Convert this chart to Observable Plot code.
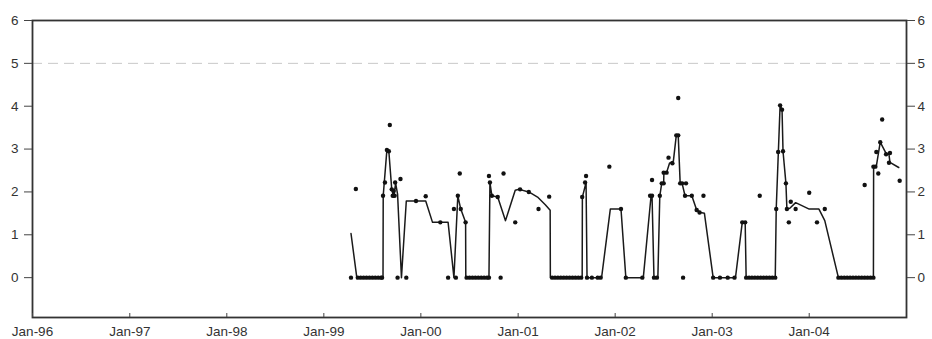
<!DOCTYPE html>
<html>
<head>
<meta charset="utf-8">
<script src="https://cdn.jsdelivr.net/npm/d3@7"></script>
<script src="https://cdn.jsdelivr.net/npm/@observablehq/plot@0.6"></script>
<style>
  html, body { margin: 0; padding: 0; background: #fff; }
  #chart svg { display: block; }
</style>
</head>
<body>
<div id="chart"></div>
<script>
// ---- data (decimal years, values) ----
const lineYears = [
  1999.28, 1999.34, 1999.61, 1999.612, 1999.65, 1999.67, 1999.70, 1999.72, 1999.74, 1999.76,
  1999.80, 1999.85, 2000.05, 2000.12, 2000.28, 2000.34, 2000.38, 2000.41, 2000.46, 2000.462,
  2000.70, 2000.71, 2000.73, 2000.79, 2000.87, 2000.97, 2001.01, 2001.11, 2001.20, 2001.28,
  2001.33, 2001.332, 2001.66, 2001.662, 2001.70, 2001.71, 2001.86, 2001.95, 2002.06, 2002.11,
  2002.29, 2002.37, 2002.38, 2002.40, 2002.44, 2002.46, 2002.48, 2002.50, 2002.502, 2002.53,
  2002.56, 2002.60, 2002.63, 2002.65, 2002.67, 2002.69, 2002.72, 2002.79, 2002.84, 2002.88,
  2002.92, 2003.01, 2003.24, 2003.31, 2003.34, 2003.35, 2003.65, 2003.66, 2003.70, 2003.72,
  2003.73, 2003.76, 2003.77, 2003.80, 2003.86, 2004.00, 2004.10, 2004.16, 2004.30, 2004.66,
  2004.662, 2004.69, 2004.73, 2004.79, 2004.82, 2004.83, 2004.92
];
const lineValues = [
  1.03, 0, 0, 1.91, 2.98, 2.95, 2.06, 1.88, 2.2, 1.95,
  0, 1.79, 1.79, 1.29, 1.29, 0, 1.91, 1.6, 1.29, 0,
  0, 2.22, 1.91, 1.88, 1.33, 2.04, 2.06, 2.0, 1.88, 1.7,
  1.57, 0, 0, 1.88, 2.22, 0, 0, 1.6, 1.6, 0,
  0, 1.91, 1.91, 0, 0, 1.91, 2.2, 2.2, 2.45, 2.45,
  2.67, 2.72, 3.32, 3.32, 2.2, 2.2, 1.91, 1.91, 1.58, 1.52,
  1.5, 0, 0, 1.29, 1.29, 0, 0, 1.6, 4.02, 3.92,
  2.95, 2.2, 1.6, 1.62, 1.75, 1.6, 1.6, 1.33, 0, 0,
  2.59, 2.6, 3.16, 2.9, 2.87, 2.69, 2.57
];

const dotYears = [
  1999.28, 1999.33, 1999.35, 1999.38, 1999.41, 1999.44, 1999.47, 1999.50, 1999.53, 1999.56,
  1999.59, 1999.60, 1999.61, 1999.63, 1999.65, 1999.67, 1999.68, 1999.70, 1999.71, 1999.72,
  1999.73, 1999.735, 1999.76, 1999.79, 1999.85, 1999.95, 2000.05, 2000.20, 2000.28, 2000.34,
  2000.36, 2000.38, 2000.40, 2000.41, 2000.46, 2000.47, 2000.50, 2000.53, 2000.56, 2000.59,
  2000.62, 2000.65, 2000.68, 2000.70, 2000.70, 2000.71, 2000.73, 2000.79, 2000.82, 2000.85,
  2000.97, 2001.02, 2001.11, 2001.21, 2001.32, 2001.35, 2001.38, 2001.41, 2001.44, 2001.47,
  2001.50, 2001.53, 2001.56, 2001.59, 2001.62, 2001.65, 2001.66, 2001.69, 2001.70, 2001.71,
  2001.76, 2001.82, 2001.85, 2001.94, 2002.06, 2002.11, 2002.28, 2002.36, 2002.38, 2002.38,
  2002.40, 2002.43, 2002.46, 2002.48, 2002.50, 2002.50, 2002.53, 2002.55, 2002.59, 2002.63,
  2002.65, 2002.65, 2002.67, 2002.69, 2002.70, 2002.73, 2002.72, 2002.79, 2002.84, 2002.87,
  2002.91, 2003.01, 2003.08, 2003.16, 2003.23, 2003.31, 2003.34, 2003.35, 2003.38, 2003.41,
  2003.44, 2003.47, 2003.50, 2003.53, 2003.56, 2003.59, 2003.62, 2003.65, 2003.49, 2003.66,
  2003.68, 2003.70, 2003.72, 2003.73, 2003.76, 2003.77, 2003.79, 2003.81, 2003.86, 2004.00,
  2004.08, 2004.16, 2004.30, 2004.33, 2004.36, 2004.39, 2004.42, 2004.45, 2004.48, 2004.51,
  2004.54, 2004.57, 2004.60, 2004.63, 2004.66, 2004.57, 2004.66, 2004.68, 2004.69, 2004.71,
  2004.73, 2004.75, 2004.79, 2004.83, 2004.82, 2004.93
];
const dotValues = [
  0, 2.07, 0, 0, 0, 0, 0, 0, 0, 0,
  0, 0, 1.91, 2.22, 2.98, 2.95, 3.56, 2.06, 1.91, 2.02,
  1.91, 2.22, 0, 2.3, 0, 1.79, 1.9, 1.29, 0, 1.6,
  0, 1.91, 2.43, 1.6, 1.29, 0, 0, 0, 0, 0,
  0, 0, 0, 0, 2.37, 2.22, 1.91, 1.88, 0, 2.43,
  1.29, 2.06, 2.0, 1.6, 1.89, 0, 0, 0, 0, 0,
  0, 0, 0, 0, 0, 0, 1.88, 2.22, 2.37, 0,
  0, 0, 0, 2.59, 1.6, 0, 0, 1.91, 1.91, 2.28,
  0, 0, 1.91, 2.2, 2.2, 2.45, 2.45, 2.8, 2.67, 3.32,
  3.32, 4.19, 2.2, 2.2, 0, 2.2, 1.91, 1.91, 1.58, 1.52,
  1.91, 0, 0, 0, 0, 1.29, 1.29, 0, 0, 0,
  0, 0, 0, 0, 0, 0, 0, 0, 1.91, 1.6,
  2.93, 4.02, 3.92, 2.95, 2.2, 1.6, 1.29, 1.77, 1.6, 1.98,
  1.29, 1.6, 0, 0, 0, 0, 0, 0, 0, 0,
  0, 0, 0, 0, 0, 2.16, 2.59, 2.59, 2.93, 2.43,
  3.16, 3.69, 2.88, 2.91, 2.68, 2.26
];

const xTickYears = [1996, 1997, 1998, 1999, 2000, 2001, 2002, 2003, 2004];
const yTicks = [0, 1, 2, 3, 4, 5, 6];
const referenceLevel = [5];

// ---- build tables ----
const toDate = (y) => {
  const yr = Math.floor(y);
  const s = Date.UTC(yr, 0, 1), e = Date.UTC(yr + 1, 0, 1);
  return new Date(s + (y - yr) * (e - s));
};
const lineData = lineYears.map((y, i) => ({date: toDate(y), value: lineValues[i]}));
const dotData = dotYears.map((y, i) => ({date: toDate(y), value: dotValues[i]}));
const xTicks = xTickYears.map(y => new Date(Date.UTC(y, 0, 1)));

const font = "'Liberation Sans', Arial, Helvetica, sans-serif";

const chart = Plot.plot({
  width: 932,
  height: 339,
  marginLeft: 32,
  marginRight: 26,
  marginTop: 20,
  marginBottom: 22,
  style: {fontFamily: font, fontSize: "13.5px", color: "#333", background: "#fff"},
  x: {type: "utc", domain: [new Date(Date.UTC(1996, 0, 1)), new Date(Date.UTC(2005, 0, 1))]},
  y: {domain: [-0.93, 6]},
  marks: [
    Plot.ruleY(referenceLevel, {stroke: "#c8c8c8", strokeWidth: 1, strokeDasharray: "10,6"}),
    Plot.line(lineData, {x: "date", y: "value", stroke: "#1a1a1a", strokeWidth: 1.5, curve: "linear"}),
    Plot.dot(dotData, {x: "date", y: "value", r: 2.2, fill: "#111", stroke: null}),
    Plot.frame({stroke: "#333", strokeWidth: 1.8}),
    Plot.axisY({ticks: yTicks, anchor: "left", tickSize: 8, tickPadding: 6, tickFormat: d => String(d), label: null, stroke: "#444", fill: "#333", fontSize: 13.5}),
    Plot.axisY({ticks: yTicks, anchor: "right", tickSize: 8, tickPadding: 3, tickFormat: d => String(d), label: null, stroke: "#444", fill: "#333", fontSize: 13.5}),
    Plot.ruleX(xTicks, {x: d => d, insetTop: 293, stroke: "#444", strokeWidth: 1}),
    Plot.axisX({ticks: xTicks, anchor: "bottom", tickSize: 0, tickPadding: 9, tickFormat: d3.utcFormat("%b-%y"), label: null, fill: "#333", fontSize: 13.5})
  ]
});
document.getElementById("chart").appendChild(chart);
</script>
</body>
</html>
